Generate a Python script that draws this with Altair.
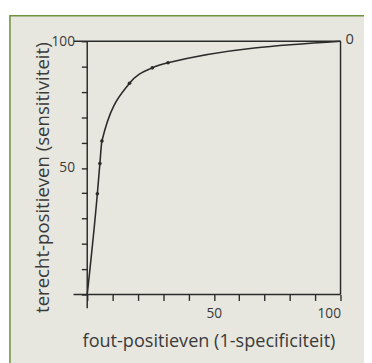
import altair as alt
import pandas as pd

# ROC curve values
fpr = [0, 4.0, 5.0, 5.8, 16.7, 25.7, 31.9, 100]
tpr = [0, 39.8, 51.7, 60.6, 83.4, 89.5, 91.5, 100]
dot_fpr = [4.0, 5.0, 5.8, 16.7, 25.7, 31.9]
dot_tpr = [39.8, 51.7, 60.6, 83.4, 89.5, 91.5]
tick_values = list(range(0, 101, 10))
end_label = ["0"]

FONT = "Open Sans"
INK = "#2b2b2b"
TXT = "#3a3a3a"

curve_df = pd.DataFrame({"fpr": fpr, "tpr": tpr})
dots_df = pd.DataFrame({"fpr": dot_fpr, "tpr": dot_tpr})
label_df = pd.DataFrame({"fpr": [100], "tpr": [100], "t": end_label})

xs = alt.Scale(domain=[0, 100], nice=False, zero=False)
ys = alt.Scale(domain=[0, 100], nice=False, zero=False)

x_axis = alt.Axis(
    values=tick_values,
    labelExpr="datum.value == 50 || datum.value == 100 ? datum.label : ''",
    title="fout-positieven (1-specificiteit)",
    titleX=124, titleY=47, titleAlign="center", titleBaseline="middle",
    titleFontSize=18.5,
    domain=False, grid=False, tickSize=6, labelPadding=6, zindex=1,
)
y_axis = alt.Axis(
    values=tick_values,
    labelExpr="datum.value == 50 || datum.value == 100 ? datum.label : ''",
    title="terecht-positieven (sensitiviteit)",
    titleX=-46, titleY=139, titleAlign="center", titleBaseline="middle", titleAngle=-90,
    titleFontSize=19,
    domain=False, grid=False, tickSize=6, labelPadding=7, zindex=1,
)


def X(field):
    return alt.X(field, scale=xs, axis=x_axis)


def Y(field):
    return alt.Y(field, scale=ys, axis=y_axis)


bg = alt.Chart(pd.DataFrame({"a": [0]})).mark_rect(
    fill="#e7e7e0", stroke="#6f9440", strokeWidth=1.6
).encode(
    x=alt.value(-79), x2=alt.value(300), y=alt.value(-26), y2=alt.value(340)
)

line = alt.Chart(curve_df).mark_line(
    color=INK, strokeWidth=1.6, interpolate="monotone"
).encode(x=X("fpr:Q"), y=Y("tpr:Q"))

# frame lines (axes extended past the origin, top and right borders)
frame_df = pd.DataFrame({
    "x1": [-5.4, 0, -5.4, 100],
    "x2": [100, 0, 100, 100],
    "y1": [0, -5.4, 100, 0],
    "y2": [0, 100, 100, 100],
})
frame = alt.Chart(frame_df).mark_rule(color=INK, strokeWidth=1.5).encode(
    x=X("x1:Q"), x2="x2:Q", y=Y("y1:Q"), y2="y2:Q",
)

dots = alt.Chart(dots_df).mark_circle(color=INK, size=14, opacity=1).encode(
    x=X("fpr:Q"), y=Y("tpr:Q")
)

lab = alt.Chart(label_df).mark_text(
    align="left", baseline="middle", dx=5, dy=-2, font=FONT, fontSize=15, color=TXT
).encode(x=X("fpr:Q"), y=Y("tpr:Q"), text="t:N")

chart = alt.layer(bg, line, frame, dots, lab).properties(
    width=259, height=259,
    autosize=alt.AutoSizeParams(type="none"),
    padding={"left": 81, "top": 30, "right": 24, "bottom": 66},
    background="white",
).configure_view(stroke=None).configure_axis(
    labelFont=FONT, labelFontSize=14, labelColor=TXT,
    titleFont=FONT, titleFontWeight="normal", titleColor=TXT,
    tickColor=INK, tickWidth=1.4,
)

chart.save("out.html", embed_options={"renderer": "svg", "actions": False})
